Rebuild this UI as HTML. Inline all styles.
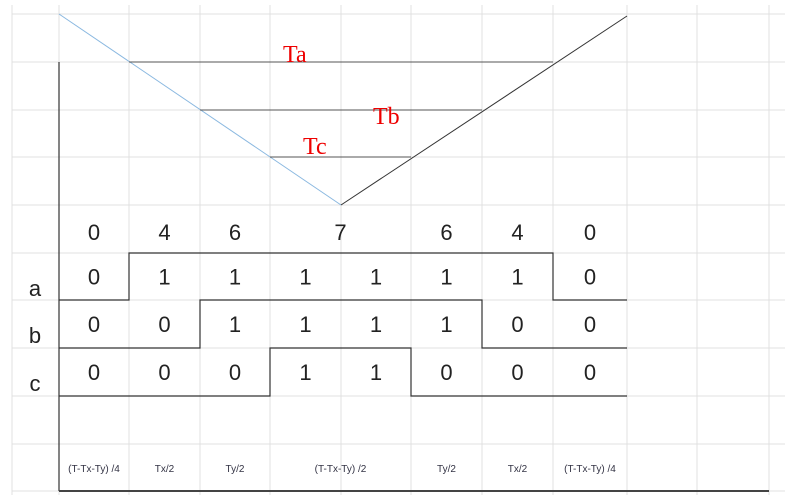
<!DOCTYPE html>
<html><head><meta charset="utf-8"><style>
body{margin:0;background:#fff}
svg{display:block}
text{font-family:"Liberation Sans","Noto Sans CJK SC",sans-serif}
</style></head><body>
<svg id="c" width="785" height="495"></svg>
<script>
const colX=[12,59,129,200,270,341,411,482,553,627,697,769];
const rowY=[14,62,110,157,205,253,300,348,396,444,491];
const sectorVals=["0","4","6","7","6","4","0"];
const sectorCols=[[1,2],[2,3],[3,4],[4,6],[6,7],[7,8],[8,9]];
const aBits=[0,1,1,1,1,1,1,0];
const bBits=[0,0,1,1,1,1,0,0];
const cBits=[0,0,0,1,1,0,0,0];
const timeLabels=["(T-Tx-Ty) /4","Tx/2","Ty/2","(T-Tx-Ty) /2","Ty/2","Tx/2","(T-Tx-Ty) /4"];
const NS="http://www.w3.org/2000/svg";
const svg=document.getElementById('c');
function el(t,a,txt){const e=document.createElementNS(NS,t);for(const k in a)e.setAttribute(k,a[k]);if(txt!==undefined)e.textContent=txt;svg.appendChild(e);return e;}
// grid
colX.forEach(x=>{const l=el('line',{x1:x,y1:5,x2:x,y2:495,stroke:'#e0e0e0','stroke-width':1});

});
rowY.forEach(y=>{const l=el('line',{x1:12,y1:y,x2:785,y2:y,stroke:'#e0e0e0','stroke-width':1});

});
// axis
let ax=el('line',{x1:59,y1:62,x2:59,y2:491,stroke:'#333','stroke-width':1.2});


let bt=el('line',{x1:59,y1:491,x2:769,y2:491,stroke:'#444','stroke-width':2});


// triangle
let bl=el('line',{x1:59,y1:14,x2:341,y2:205,stroke:'#8ab8e0','stroke-width':1});


let br=el('line',{x1:341,y1:205,x2:627,y2:16,stroke:'#333','stroke-width':1});


[[62,129,553,'Ta',283,62],[110,200,482,'Tb',373,124],[157,270,411,'Tc',303,154]].forEach(d=>{
 const l=el('line',{x1:d[1],y1:d[0],x2:d[2],y2:d[0],stroke:'#555','stroke-width':1});
 
 
 const t=el('text',{x:d[4],y:d[5],fill:'#e00','font-size':24,style:'font-family:"Liberation Serif",serif'},d[3]);
 
 
});
// sector numbers
sectorVals.forEach((v,i)=>{const c=sectorCols[i];const x=(colX[c[0]]+colX[c[1]])/2;
 const t=el('text',{x:x,y:240,'text-anchor':'middle','font-size':22,fill:'#222'},v);
 
 });
// waveforms
function wave(bits,hiY,loY,name,lbl,ly){
 let d='';bits.forEach((b,i)=>{const y=b?hiY:loY;const x0=colX[i+1],x1=colX[i+2];
  d+=(i===0?'M'+x0+' '+y:'L'+x0+' '+y)+' L'+x1+' '+y+' ';
  const t=el('text',{x:(x0+x1)/2,y:(hiY+loY)/2+8,'text-anchor':'middle','font-size':22,fill:'#222'},String(b));
  
  });
 const p=el('path',{d:d,fill:'none',stroke:'#333','stroke-width':1.2});
 
 
 const t=el('text',{x:35,y:ly,'text-anchor':'middle','font-size':22,fill:'#222'},lbl);
 
 
}
wave(aBits,253,300,'a','a',296);
wave(bBits,300,348,'b','b',343);
wave(cBits,348,396,'c','c',391);
// time labels
timeLabels.forEach((v,i)=>{const c=sectorCols[i];const x=(colX[c[0]]+colX[c[1]])/2;
 const t=el('text',{x:x,y:472,'text-anchor':'middle','font-size':10,fill:'#334'},v);
 
 });
</script>
</body></html>
